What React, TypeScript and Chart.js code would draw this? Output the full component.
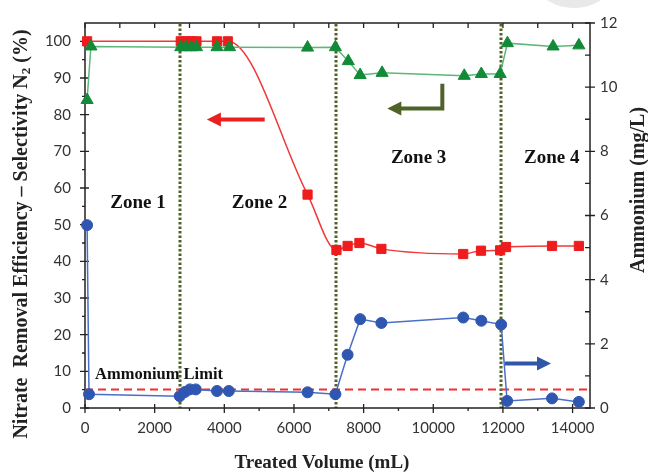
import React, { useEffect, useRef } from 'react';
import { Chart, registerables } from 'chart.js';
Chart.register(...registerables);

// ---- data ----
const nitrateVolume = [60, 2750, 2900, 3050, 3200, 3790, 4100, 6390, 7220, 7540, 7880, 8510, 10860, 11370, 11920, 12090, 13410, 14180];
const nitrateRemoval = [100, 100, 100, 100, 100, 100, 100, 58.2, 43.1, 44.2, 45.0, 43.4, 42.0, 42.9, 43.0, 43.9, 44.2, 44.2];

const selectivityVolume = [60, 170, 2750, 2900, 3050, 3200, 3790, 4150, 6390, 7190, 7560, 7900, 8530, 10890, 11380, 11920, 12130, 13440, 14180];
const selectivityN2 = [84, 98.6, 98.4, 98.4, 98.4, 98.4, 98.4, 98.4, 98.3, 98.4, 94.6, 90.8, 91.4, 90.6, 91.1, 91.1, 99.5, 98.6, 98.9];

const ammoniumVolume = [60, 115, 2720, 2870, 3010, 3180, 3790, 4130, 6390, 7190, 7540, 7900, 8510, 10860, 11380, 11950, 12120, 13410, 14180];
const ammoniumConc = [5.7, 0.43, 0.37, 0.5, 0.58, 0.58, 0.53, 0.53, 0.49, 0.43, 1.66, 2.77, 2.65, 2.82, 2.72, 2.6, 0.22, 0.3, 0.19];

const ammoniumLimit = 0.58;
const zoneBoundaries = [2720, 7200, 11950];
const zoneLabels = ['Zone 1', 'Zone 2', 'Zone 3', 'Zone 4'];

const xTickValues = [0, 2000, 4000, 6000, 8000, 10000, 12000, 14000];
const leftTickValues = [0, 10, 20, 30, 40, 50, 60, 70, 80, 90, 100];
const rightTickValues = [0, 2, 4, 6, 8, 10, 12];

const xRange = [0, 14500];
const leftRange = [0, 105];
const rightRange = [0, 12];

// annotation anchors in data coordinates
const zoneLabelAnchors = [
  { x: 1520, y: 56 },
  { x: 5010, y: 56 },
  { x: 9580, y: 68.2 },
  { x: 13400, y: 68.2 },
];
const limitLabelAnchor = { x: 290, y: 9.2 };

const SERIF = '"Liberation Serif", "Times New Roman", serif';

function arrowHead(ctx: CanvasRenderingContext2D, tx: number, ty: number, dx: number, dy: number, len: number, half: number) {
  const bx = tx - dx * len, by = ty - dy * len;
  ctx.beginPath();
  ctx.moveTo(tx, ty);
  ctx.lineTo(bx - dy * half, by + dx * half);
  ctx.lineTo(bx + dy * half, by - dx * half);
  ctx.closePath();
  ctx.fill();
}

const decorPlugin = {
  id: 'decor',
  beforeDraw(chart: any) {
    const ctx = chart.ctx as CanvasRenderingContext2D;
    ctx.save();
    ctx.fillStyle = '#e9e9e9';
    ctx.beginPath();
    ctx.arc(574, -42, 50, 0, Math.PI * 2);
    ctx.fill();
    ctx.restore();
  },
  beforeDatasetsDraw(chart: any) {
    const ctx = chart.ctx as CanvasRenderingContext2D;
    const a = chart.chartArea;
    const xs = chart.scales.x, yl = chart.scales.y, yr = chart.scales.y1;
    ctx.save();
    // zone separators
    ctx.strokeStyle = '#4f6228';
    ctx.lineWidth = 3;
    ctx.setLineDash([2.5, 2]);
    zoneBoundaries.forEach((v) => {
      const px = Math.round(xs.getPixelForValue(v));
      ctx.beginPath();
      ctx.moveTo(px, a.top + 1);
      ctx.lineTo(px, a.bottom);
      ctx.stroke();
    });
    ctx.setLineDash([]);
    // frame
    ctx.strokeStyle = '#222';
    ctx.lineWidth = 1.5;
    ctx.strokeRect(a.left, a.top, a.right - a.left, a.bottom - a.top);
    ctx.lineWidth = 1.3;
    ctx.beginPath();
    for (let v = 0; v <= 14000; v += 1000) {
      const px = xs.getPixelForValue(v);
      const major = v % 2000 === 0;
      ctx.moveTo(px, a.bottom + (major ? 5 : 3));
      ctx.lineTo(px, a.bottom - (major ? 4 : 0));
      ctx.moveTo(px, a.top);
      ctx.lineTo(px, a.top + 5);
    }
    for (let v = 0; v <= 100; v += 5) {
      const py = yl.getPixelForValue(v);
      const major = v % 10 === 0;
      ctx.moveTo(a.left - (major ? 5 : 3), py);
      ctx.lineTo(a.left + (major ? 4 : 0), py);
    }
    for (let v = 0; v <= 12; v += 1) {
      const py = yr.getPixelForValue(v);
      const major = v % 2 === 0;
      ctx.moveTo(a.right - 5, py);
      ctx.lineTo(a.right + (major ? 5 : 0), py);
    }
    ctx.stroke();
    ctx.restore();
  },
  afterDatasetsDraw(chart: any) {
    const ctx = chart.ctx as CanvasRenderingContext2D;
    const xs = chart.scales.x, yl = chart.scales.y, yr = chart.scales.y1;
    ctx.save();
    ctx.fillStyle = '#111';
    ctx.textAlign = 'center';
    ctx.textBaseline = 'middle';
    ctx.font = `bold 19px ${SERIF}`;
    zoneLabels.forEach((t, i) => {
      const an = zoneLabelAnchors[i];
      ctx.fillText(t, xs.getPixelForValue(an.x), yl.getPixelForValue(an.y));
    });
    ctx.font = `bold 16.5px ${SERIF}`;
    ctx.textAlign = 'left';
    ctx.fillText('Ammonium Limit', xs.getPixelForValue(limitLabelAnchor.x), yl.getPixelForValue(limitLabelAnchor.y));

    // red arrow (points to left axis)
    ctx.strokeStyle = '#e82020';
    ctx.fillStyle = '#e82020';
    ctx.lineWidth = 4;
    {
      const y = yl.getPixelForValue(78.7);
      const x0 = xs.getPixelForValue(5160), x1 = xs.getPixelForValue(3500);
      ctx.beginPath(); ctx.moveTo(x0, y); ctx.lineTo(x1 + 10, y); ctx.stroke();
      arrowHead(ctx, x1, y, -1, 0, 14, 7);
    }
    // olive bent arrow (selectivity -> left axis)
    ctx.strokeStyle = '#4f6228';
    ctx.fillStyle = '#4f6228';
    {
      const xv = xs.getPixelForValue(10260);
      const yt = yl.getPixelForValue(88.4), yb = yl.getPixelForValue(81.7);
      const xt = xs.getPixelForValue(8680);
      ctx.beginPath(); ctx.moveTo(xv, yt); ctx.lineTo(xv, yb); ctx.lineTo(xt + 10, yb); ctx.stroke();
      arrowHead(ctx, xt, yb, -1, 0, 14, 7);
    }
    // blue arrow (ammonium -> right axis)
    ctx.strokeStyle = '#2f56a8';
    ctx.fillStyle = '#2f56a8';
    {
      const y = yr.getPixelForValue(1.39);
      const x0 = xs.getPixelForValue(12060), x1 = xs.getPixelForValue(13380);
      ctx.beginPath(); ctx.moveTo(x0, y); ctx.lineTo(x1 - 10, y); ctx.stroke();
      arrowHead(ctx, x1, y, 1, 0, 14, 7);
    }
    ctx.restore();
  },
  afterDraw(chart: any) {
    const ctx = chart.ctx as CanvasRenderingContext2D;
    ctx.save();
    ctx.fillStyle = '#222';
    ctx.textBaseline = 'middle';
    // bottom title
    ctx.font = `bold 19px ${SERIF}`;
    ctx.textAlign = 'center';
    ctx.fillText('Treated Volume (mL)', 322, 463);
    // right title
    ctx.save();
    ctx.translate(639, 190);
    ctx.rotate(-Math.PI / 2);
    ctx.font = `bold 20px ${SERIF}`;
    ctx.fillText('Ammonium (mg/L)', 0, 0);
    ctx.restore();
    // left title with subscript
    ctx.save();
    ctx.translate(22, 234);
    ctx.rotate(-Math.PI / 2);
    const mainFont = `bold 20px ${SERIF}`;
    const subFont = `bold 13px ${SERIF}`;
    const p1 = 'Nitrate  Removal Efficiency \u2013 Selectivity N';
    const p2 = '2';
    const p3 = ' (%)';
    ctx.font = mainFont; const w1 = ctx.measureText(p1).width; const w3 = ctx.measureText(p3).width;
    ctx.font = subFont; const w2 = ctx.measureText(p2).width;
    let x = -(w1 + w2 + w3) / 2;
    ctx.textAlign = 'left';
    ctx.font = mainFont; ctx.fillText(p1, x, 0); x += w1;
    ctx.font = subFont; ctx.fillText(p2, x, 5); x += w2;
    ctx.font = mainFont; ctx.fillText(p3, x, 0);
    ctx.restore();
    ctx.restore();
  },
};

const plainLabel = (v: any) => String(v);

export default function App() {
  const ref = useRef<HTMLCanvasElement | null>(null);
  useEffect(() => {
    if (!ref.current) return;
    const tickFont = { family: 'Lato, "Open Sans", sans-serif', size: 15 };
    const chart = new Chart(ref.current, {
      type: 'scatter',
      data: {
        datasets: [
          {
            label: 'Selectivity N2',
            data: selectivityVolume.map((x, i) => ({ x, y: selectivityN2[i] })),
            showLine: true,
            borderColor: '#5cb87a',
            borderWidth: 1.5,
            pointStyle: 'triangle',
            pointRadius: 7,
            pointBackgroundColor: '#128a38',
            pointBorderColor: '#128a38',
            pointBorderWidth: 1,
            yAxisID: 'y',
            clip: false,
          },
          {
            label: 'Nitrate removal',
            data: nitrateVolume.map((x, i) => ({ x, y: nitrateRemoval[i] })),
            showLine: true,
            borderColor: '#f03838',
            borderWidth: 1.5,
            cubicInterpolationMode: 'monotone',
            pointStyle: 'rect',
            pointRadius: 6.5,
            pointBackgroundColor: '#ee1c1c',
            pointBorderColor: '#ee1c1c',
            pointBorderWidth: 1,
            yAxisID: 'y',
            clip: false,
          },
          {
            label: 'Ammonium',
            data: ammoniumVolume.map((x, i) => ({ x, y: ammoniumConc[i] })),
            showLine: true,
            borderColor: '#4a6fc8',
            borderWidth: 1.5,
            pointStyle: 'circle',
            pointRadius: 5.5,
            pointBackgroundColor: '#2f56b0',
            pointBorderColor: '#2f56b0',
            pointBorderWidth: 1,
            yAxisID: 'y1',
            clip: false,
          },
          {
            label: 'Ammonium limit',
            data: xRange.map((x) => ({ x, y: ammoniumLimit })),
            showLine: true,
            borderColor: '#f03030',
            borderWidth: 2,
            borderDash: [8, 5],
            pointRadius: 0,
            yAxisID: 'y1',
          },
        ],
      },
      options: {
        responsive: false,
        animation: false,
        events: [],
        layout: { padding: { top: 19, left: 0, right: 0, bottom: 0 } },
        plugins: { legend: { display: false }, tooltip: { enabled: false } },
        scales: {
          x: {
            type: 'linear',
            min: xRange[0],
            max: xRange[1],
            grid: { display: false, drawTicks: false },
            border: { display: false },
            ticks: { autoSkip: false, font: tickFont, color: '#333', padding: 11, maxRotation: 0, minRotation: 0, callback: plainLabel },
            afterBuildTicks: (s: any) => { s.ticks = xTickValues.map((v) => ({ value: v })); },
            afterFit: (s: any) => { s.height = 68; },
          },
          y: {
            type: 'linear',
            position: 'left',
            min: leftRange[0],
            max: leftRange[1],
            grid: { display: false, drawTicks: false },
            border: { display: false },
            ticks: { autoSkip: false, font: tickFont, color: '#333', padding: 14, callback: plainLabel },
            afterBuildTicks: (s: any) => { s.ticks = leftTickValues.map((v) => ({ value: v })); },
            afterFit: (s: any) => { s.width = 85; },
          },
          y1: {
            type: 'linear',
            position: 'right',
            min: rightRange[0],
            max: rightRange[1],
            grid: { display: false, drawTicks: false },
            border: { display: false },
            ticks: { autoSkip: false, font: tickFont, color: '#333', padding: 10, callback: plainLabel },
            afterBuildTicks: (s: any) => { s.ticks = rightTickValues.map((v) => ({ value: v })); },
            afterFit: (s: any) => { s.width = 58; },
          },
        },
      },
      plugins: [decorPlugin],
    } as any);
    return () => chart.destroy();
  }, []);
  return (
    <div style={{ position: 'absolute', left: 0, top: 0, width: 648, height: 476, background: '#fff' }}>
      <canvas ref={ref} width={648} height={476} style={{ display: 'block' }} />
    </div>
  );
}
